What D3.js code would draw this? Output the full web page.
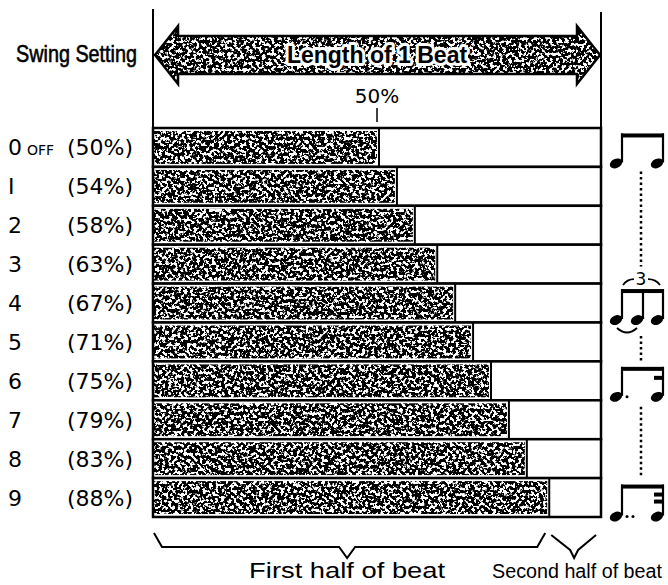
<!DOCTYPE html>
<html>
<head>
<meta charset="utf-8">
<script src="https://cdn.jsdelivr.net/npm/d3@7"></script>
<style>
  body { margin: 0; background: #fff; }
  svg { display: block; }
</style>
</head>
<body>
<script>
// swing settings and the share of the beat taken by the first half
var settings = ["0", "1", "2", "3", "4", "5", "6", "7", "8", "9"];
var swingPct = [50, 54, 58, 63, 67, 71, 75, 79, 83, 88];
var settingNames = ["0", "I", "2", "3", "4", "5", "6", "7", "8", "9"];

var svgWidth = 668;
var svgHeight = 585;

var svg = d3.select("body")
  .append("svg")
  .attr("width", svgWidth)
  .attr("height", svgHeight);

// scanned stipple look
var defs = svg.append("defs");
var grain = defs.append("filter")
  .attr("id", "grain")
  .attr("x", 0).attr("y", 0).attr("width", "100%").attr("height", "100%");
grain.append("feTurbulence")
  .attr("type", "fractalNoise")
  .attr("baseFrequency", 0.32)
  .attr("numOctaves", 3)
  .attr("seed", 7)
  .attr("result", "noise");
grain.append("feColorMatrix")
  .attr("in", "noise")
  .attr("type", "matrix")
  .attr("values", "0 0 0 0 0  0 0 0 0 0  0 0 0 0 0  16 0 0 0 -6.9")
  .attr("result", "dots");
grain.append("feComposite")
  .attr("in", "dots")
  .attr("in2", "SourceGraphic")
  .attr("operator", "in");

var x = d3.scaleLinear().domain([0, 100]).range([153, 601]);
var y = d3.scaleBand().domain(settings).range([128, 517]);

var labelFont = "'DejaVu Sans', sans-serif";
var headFont = "'Liberation Sans Narrow', 'Liberation Sans', sans-serif";

// frame lines
svg.append("line")
  .attr("x1", x(0)).attr("x2", x(0))
  .attr("y1", 9).attr("y2", y.range()[1])
  .attr("stroke", "#000").attr("stroke-width", 2);
svg.append("line")
  .attr("x1", x(100)).attr("x2", x(100))
  .attr("y1", 12).attr("y2", y.range()[1])
  .attr("stroke", "#000").attr("stroke-width", 2);

// "Length of 1 Beat" arrow
var ay = 55, head = 29, body = 19, hl = 23;
var x0 = x(0) + 2, x1 = x(100) - 1;
var arrowPath = [
  [x0, ay], [x0 + hl, ay - head], [x0 + hl, ay - body],
  [x1 - hl, ay - body], [x1 - hl, ay - head], [x1, ay],
  [x1 - hl, ay + head], [x1 - hl, ay + body], [x0 + hl, ay + body],
  [x0 + hl, ay + head]
];
var line = d3.line();
svg.append("path")
  .attr("d", line(arrowPath) + "Z")
  .attr("fill", "#fff")
  .attr("stroke", "#000")
  .attr("stroke-width", 2.5);
svg.append("path")
  .attr("d", line(arrowPath) + "Z")
  .attr("fill", "#000")
  .attr("filter", "url(#grain)");

// white halo, then the bold title on top
svg.append("text")
  .attr("x", x(50))
  .attr("y", ay + 8)
  .attr("text-anchor", "middle")
  .style("font-family", headFont)
  .style("font-weight", "bold")
  .style("font-size", "23px")
  .attr("fill", "#fff")
  .attr("stroke", "#fff")
  .attr("stroke-width", 6)
  .attr("stroke-linejoin", "round")
  .text("Length of 1 Beat");
svg.append("text")
  .attr("x", x(50))
  .attr("y", ay + 8)
  .attr("text-anchor", "middle")
  .style("font-family", headFont)
  .style("font-weight", "bold")
  .style("font-size", "23px")
  .attr("fill", "#000")
  .text("Length of 1 Beat");

svg.append("text")
  .attr("x", 16)
  .attr("y", 62)
  .style("font-family", headFont)
  .style("font-size", "24px")
  .attr("stroke", "#000")
  .attr("stroke-width", 0.6)
  .attr("textLength", 121)
  .attr("lengthAdjust", "spacingAndGlyphs")
  .text("Swing Setting");

// 50% marker
svg.append("text")
  .attr("x", x(50))
  .attr("y", 103)
  .attr("text-anchor", "middle")
  .style("font-family", labelFont)
  .style("font-size", "20px")
  .text("50%");
svg.append("line")
  .attr("x1", x(50)).attr("x2", x(50))
  .attr("y1", 108).attr("y2", 122)
  .attr("stroke", "#000").attr("stroke-width", 1.5);

// rows
var rows = svg.selectAll("g.row")
  .data(settings)
  .enter()
  .append("g")
  .attr("class", "row");

rows.append("rect")
  .attr("x", x(0))
  .attr("y", d => y(d))
  .attr("width", x(100) - x(0))
  .attr("height", y.bandwidth())
  .attr("fill", "#fff");

rows.append("rect")
  .attr("x", x(0))
  .attr("y", d => y(d) + 3)
  .attr("width", (d, i) => x(swingPct[i]) - x(0))
  .attr("height", y.bandwidth() - 6)
  .attr("fill", "#000")
  .attr("filter", "url(#grain)");

rows.append("rect")
  .attr("x", x(0))
  .attr("y", d => y(d))
  .attr("width", x(100) - x(0))
  .attr("height", y.bandwidth())
  .attr("fill", "none")
  .attr("stroke", "#000")
  .attr("stroke-width", 2.5);

rows.append("line")
  .attr("x1", (d, i) => x(swingPct[i]) + 2)
  .attr("x2", (d, i) => x(swingPct[i]) + 2)
  .attr("y1", d => y(d))
  .attr("y2", d => y(d) + y.bandwidth())
  .attr("stroke", "#000")
  .attr("stroke-width", 2);

// row labels
rows.append("text")
  .attr("x", 8)
  .attr("y", d => y(d) + y.bandwidth() / 2 + 8)
  .style("font-family", labelFont)
  .style("font-size", "22px")
  .text((d, i) => settingNames[i]);

rows.append("text")
  .attr("x", 133)
  .attr("y", d => y(d) + y.bandwidth() / 2 + 8)
  .attr("text-anchor", "end")
  .style("font-family", labelFont)
  .style("font-size", "22px")
  .text((d, i) => "(" + swingPct[i] + "%)");

svg.append("text")
  .attr("x", 27)
  .attr("y", y("0") + y.bandwidth() / 2 + 8)
  .style("font-family", labelFont)
  .style("font-size", "14px")
  .text("OFF");

// brackets under the last row
var by = y.range()[1];
function brace(a, b, mid) {
  return "M" + a + "," + (by + 16) +
    " L" + (a + 8) + "," + (by + 30) +
    " L" + (mid - 8) + "," + (by + 30) +
    " L" + mid + "," + (by + 41) +
    " L" + (mid + 8) + "," + (by + 30) +
    " L" + (b - 8) + "," + (by + 30) +
    " L" + b + "," + (by + 16);
}
var firstMid = (x(0) + x(swingPct[9])) / 2 - 3;
var secondMid = (x(swingPct[9]) + x(100)) / 2;
svg.append("path")
  .attr("d", brace(x(0) + 1, x(swingPct[9]) - 2, firstMid))
  .attr("fill", "none").attr("stroke", "#000").attr("stroke-width", 2);
svg.append("path")
  .attr("d", "M" + (x(swingPct[9]) + 4) + "," + (by + 18) +
    " L" + (secondMid - 4) + "," + (by + 33) +
    " L" + secondMid + "," + (by + 41) +
    " L" + (secondMid + 4) + "," + (by + 33) +
    " L" + (x(100) - 5) + "," + (by + 18))
  .attr("fill", "none").attr("stroke", "#000").attr("stroke-width", 2);

svg.append("text")
  .attr("x", firstMid)
  .attr("y", 578)
  .attr("text-anchor", "middle")
  .style("font-family", headFont)
  .style("font-size", "22px")
  .attr("textLength", 196)
  .attr("lengthAdjust", "spacingAndGlyphs")
  .text("First half of beat");
svg.append("text")
  .attr("x", 577)
  .attr("y", 578)
  .attr("text-anchor", "middle")
  .style("font-family", headFont)
  .style("font-size", "20px")
  .attr("textLength", 170)
  .attr("lengthAdjust", "spacingAndGlyphs")
  .text("Second half of beat");

// rhythm notation on the right
var notes = svg.append("g").attr("fill", "#000").attr("stroke", "#000");
var lx = 622, rx = 663, mx = 643;

function noteHead(cx, cy) {
  notes.append("ellipse")
    .attr("cx", cx).attr("cy", cy)
    .attr("rx", 6.5).attr("ry", 4.5)
    .attr("stroke", "none")
    .attr("transform", "rotate(-25," + cx + "," + cy + ")");
}
function stem(sx, top, bottom) {
  notes.append("line")
    .attr("x1", sx).attr("x2", sx)
    .attr("y1", top).attr("y2", bottom)
    .attr("stroke-width", 2.2);
}
function beam(a, b, by0) {
  notes.append("rect")
    .attr("x", a - 1).attr("y", by0)
    .attr("width", b - a + 2).attr("height", 4)
    .attr("stroke", "none");
}
function dotted(y0, y1) {
  notes.append("line")
    .attr("x1", 641).attr("x2", 641)
    .attr("y1", y0).attr("y2", y1)
    .attr("stroke-width", 2.5)
    .attr("stroke-dasharray", "2.5,3");
}

// row 0: two even eighths
var c0 = y("0") + y.bandwidth() / 2;
beam(lx, rx, c0 - 14);
stem(lx, c0 - 14, c0 + 15);
stem(rx, c0 - 14, c0 + 15);
noteHead(lx - 6, c0 + 16);
noteHead(rx - 6, c0 + 16);
dotted(c0 + 24, c0 + 119);

// row 4: triplet
var c4 = y("4") + y.bandwidth() / 2;
notes.append("text")
  .attr("x", 641).attr("y", c4 - 18)
  .attr("text-anchor", "middle")
  .attr("stroke", "none")
  .style("font-family", labelFont)
  .style("font-size", "17px")
  .text("3");
notes.append("path")
  .attr("d", "M623," + (c4 - 18) + " Q627," + (c4 - 24) + " 634," + (c4 - 24))
  .attr("fill", "none").attr("stroke-width", 1.8);
notes.append("path")
  .attr("d", "M648," + (c4 - 24) + " Q656," + (c4 - 24) + " 660," + (c4 - 18))
  .attr("fill", "none").attr("stroke-width", 1.8);
beam(lx, rx, c4 - 14);
stem(lx, c4 - 14, c4 + 16);
stem(mx, c4 - 14, c4 + 16);
stem(rx, c4 - 14, c4 + 16);
noteHead(lx - 6, c4 + 17);
noteHead(mx - 6, c4 + 17);
noteHead(rx - 6, c4 + 17);
notes.append("path")
  .attr("d", "M617," + (c4 + 25) + " Q627," + (c4 + 34) + " 637," + (c4 + 25))
  .attr("fill", "none").attr("stroke-width", 2);
dotted(c4 + 33, c4 + 58);

// row 6: dotted eighth + sixteenth
var c6 = y("6") + y.bandwidth() / 2;
beam(lx, rx, c6 - 14);
beam(rx - 8, rx, c6 - 5);
stem(lx, c6 - 14, c6 + 15);
stem(rx, c6 - 14, c6 + 15);
noteHead(lx - 6, c6 + 16);
noteHead(rx - 6, c6 + 16);
notes.append("circle").attr("cx", 627).attr("cy", c6 + 16).attr("r", 1.5).attr("stroke", "none");
dotted(c6 + 26, c6 + 95);

// row 9: double-dotted eighth + thirty-second
var c9 = y("9") + y.bandwidth() / 2;
beam(lx, rx, c9 - 13);
beam(rx - 8, rx, c9 - 5);
beam(rx - 8, rx, c9 + 2);
stem(lx, c9 - 13, c9 + 18);
stem(rx, c9 - 13, c9 + 18);
noteHead(lx - 6, c9 + 19);
noteHead(rx - 6, c9 + 19);
notes.append("circle").attr("cx", 627).attr("cy", c9 + 19).attr("r", 1.5).attr("stroke", "none");
notes.append("circle").attr("cx", 633).attr("cy", c9 + 19).attr("r", 1.5).attr("stroke", "none");
</script>
</body>
</html>
